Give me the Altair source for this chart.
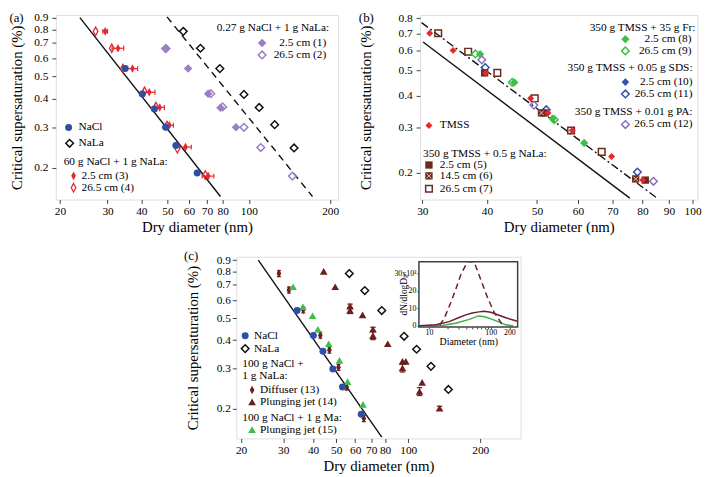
import altair as alt
import pandas as pd

FONT = "Liberation Serif, Times New Roman, DejaVu Serif, serif"
LEGSIZE = 11.5
TICKSIZE = 11.5
FRAME = "#404040"
BLUE = "#2E4FA3"
PURPLE = "#9B7EC4"
RED = "#E8262D"
BROWN = "#6B2A1A"
GREEN = "#3FBE4A"
SDSBLUE = "#3452AC"
PAPURPLE = "#8E6EC2"
MAROON = "#6C1F1C"
INMAROON = "#6E1E2C"
INGREEN = "#3DAF48"

# ---------------- panel (a) ----------------
a_x_ticks = [20, 30, 40, 50, 60, 70, 80, 100, 200]
a_y_ticks = [0.2, 0.3, 0.4, 0.5, 0.6, 0.7, 0.8, 0.9]
a_nacl_d = [34.9, 40.3, 44.7, 49.2, 53.7, 64.4]
a_nacl_s = [0.540, 0.419, 0.360, 0.300, 0.250, 0.190]
a_nala_d = [57.2, 66.2, 78.1, 95.9, 109.2, 124.6, 147.0]
a_nala_s = [0.784, 0.662, 0.540, 0.417, 0.366, 0.308, 0.244]
a_p1_d = [49.6, 59.6, 70.7, 78.5, 89.6]
a_p1_s = [0.660, 0.540, 0.420, 0.365, 0.300]
a_p2_d = [49.2, 72.3, 80.0, 95.9, 110.7, 144.9]
a_p2_s = [0.660, 0.420, 0.368, 0.300, 0.245, 0.184]
a_r3_d = [29.4, 32.8, 37.1, 42.8, 46.8, 50.8, 58.3, 70.7]
a_r3_s = [0.784, 0.662, 0.540, 0.426, 0.366, 0.306, 0.246, 0.184]
a_r3_err = [0.02, 0.05, 0.045, 0.05, 0.04, 0.035, 0.05, 0.05]
a_r4_d = [27.1, 31.1, 34.2, 41.1, 45.3, 49.8, 54.4, 69.0]
a_r4_s = [0.784, 0.662, 0.540, 0.430, 0.369, 0.305, 0.242, 0.186]
a_solid_d = [23.7, 78.5]
a_solid_s = [0.90, 0.150]
a_dash_d = [49.8, 172.0]
a_dash_s = [0.906, 0.150]
a_leg = ["0.27 g NaCl + 1 g NaLa:", "2.5 cm (1)", "26.5 cm (2)", "NaCl", "NaLa",
         "60 g NaCl + 1 g NaLa:", "2.5 cm (3)", "26.5 cm (4)"]

# ---------------- panel (b) ----------------
b_x_ticks = [30, 40, 50, 60, 70, 80, 90, 100]
b_y_ticks = [0.2, 0.3, 0.4, 0.5, 0.6, 0.7, 0.8]
b_tmss_d = [31.0, 34.4, 39.8, 48.6, 52.5, 58.5, 69.7, 80.1]
b_tmss_s = [0.700, 0.600, 0.490, 0.390, 0.342, 0.292, 0.231, 0.187]
b_s5_d = [39.6, 51.8, 81.0]
b_s5_s = [0.490, 0.342, 0.187]
b_s6_d = [51.0, 77.6]
b_s6_s = [0.342, 0.189]
b_s7_d = [32.2, 36.8, 41.9, 49.5, 58.2, 66.7]
b_s7_s = [0.700, 0.593, 0.490, 0.390, 0.292, 0.241]
b_g8_d = [38.8, 45.2, 53.6, 61.7]
b_g8_s = [0.580, 0.450, 0.325, 0.261]
b_g9_d = [38.0, 44.8, 54.0]
b_g9_s = [0.581, 0.450, 0.322]
b_b10_d = [39.6]
b_b10_s = [0.492]
b_b11_d = [39.7, 52.1, 78.2]
b_b11_s = [0.514, 0.352, 0.201]
b_p12_d = [39.1, 49.3, 84.0]
b_p12_s = [0.551, 0.367, 0.185]
b_solid_d = [30.1, 75.6]
b_solid_s = [0.647, 0.159]
b_dash_d = [29.9, 85.4]
b_dash_s = [0.770, 0.159]
b_leg = ["350 g TMSS + 35 g Fr:", "2.5 cm (8)", "26.5 cm (9)", "350 g TMSS + 0.05 g SDS:",
         "2.5 cm (10)", "26.5 cm (11)", "350 g TMSS + 0.01 g PA:", "26.5 cm (12)", "TMSS",
         "350 g TMSS + 0.5 g NaLa:", "2.5 cm (5)", "14.5 cm (6)", "26.5 cm (7)"]

# ---------------- panel (c) ----------------
c_x_ticks = [20, 30, 40, 50, 60, 70, 80, 100, 200]
c_y_ticks = [0.2, 0.3, 0.4, 0.5, 0.6, 0.7, 0.8, 0.9]
c_nacl_d = [34.3, 40.1, 44.0, 48.4, 53.1, 63.6]
c_nacl_s = [0.540, 0.419, 0.358, 0.299, 0.249, 0.189]
c_nala_d = [56.7, 65.8, 77.5, 96.1, 108.4, 124.5, 147.2]
c_nala_s = [0.785, 0.661, 0.540, 0.416, 0.365, 0.307, 0.243]
c_d13_d = [28.8, 31.7, 36.4, 42.9, 46.8, 51.1, 55.3, 65.2]
c_d13_s = [0.785, 0.665, 0.544, 0.421, 0.362, 0.304, 0.249, 0.181]
c_d13_err = [0.03, 0.03, 0.03, 0.03, 0.03, 0.03, 0.03, 0.03]
c_t14_d = [44.3, 49.5, 57.1, 57.1, 64.4, 71.2, 71.2, 82.1, 94.6, 97.7, 94.6, 114.3, 111.5, 135.2]
c_t14_s = [0.803, 0.687, 0.565, 0.540, 0.517, 0.447, 0.419, 0.386, 0.323, 0.323, 0.302, 0.261, 0.238, 0.201]
c_t14_err = [0, 0, 0.02, 0.03, 0, 0.02, 0.04, 0, 0, 0, 0.04, 0, 0.04, 0.02]
c_t15_d = [33.0, 36.3, 39.8, 41.9, 46.5, 51.6, 55.8, 64.7]
c_t15_s = [0.687, 0.561, 0.512, 0.447, 0.386, 0.326, 0.263, 0.209]
c_solid_d = [23.6, 77.5]
c_solid_s = [0.90, 0.150]
c_leg = ["NaCl", "NaLa", "100 g NaCl +", "1 g NaLa:", "Diffuser (13)", "Plunging jet (14)",
         "100 g NaCl + 1 g Ma:", "Plunging jet (15)"]

# inset size distributions
in_x_ticks = [10, 20, 30, 40, 50, 60, 70, 80, 90, 100, 200]
in_y_ticks = [0, 10, 20, 30]
in_dash_d = [15.0, 17.7, 22.7, 27.2, 32.8, 42.1, 53.8, 69.0, 88.5, 113.0, 154.0, 170.0]
in_dash_n = [0.5, 4.3, 13.5, 20.9, 29.3, 36.7, 36.7, 26.5, 16.3, 7.9, 0.6, 0.0]
in_solid_d = [7.0, 12.9, 21.3, 30.8, 39.5, 50.0, 64.7, 78.0, 100.0, 136.0, 180.0, 253.0, 272.0]
in_solid_n = [0.1, 0.6, 2.4, 4.8, 6.3, 7.4, 8.0, 8.3, 7.8, 6.1, 4.5, 2.9, 2.6]
in_green_d = [10.0, 17.0, 27.0, 45.0, 63.0, 80.0, 106.0, 140.0, 174.0, 230.0]
in_green_n = [0.0, 0.3, 1.5, 3.7, 5.7, 5.2, 3.7, 2.0, 0.6, 0.0]

ONE = pd.DataFrame({"k": [0]})
THIN = "M0,-1L0.55,0L0,1L-0.55,0Z"
VBAR = "M0,-1L0,1"
HBAR = "M-1,0L1,0"
XMARK = "M-0.75,-0.75L0.75,0.75M0.75,-0.75L-0.75,0.75"


def xaxis(vals):
    return alt.Axis(values=vals, format="~g", title="Dry diameter (nm)", domain=False, grid=False,
                    tickSize=4, tickColor=FRAME, tickWidth=1, labelFont=FONT, labelFontSize=TICKSIZE,
                    labelColor="black", labelPadding=2, labelFlush=False, labelOverlap=False,
                    titleFont=FONT, titleFontSize=15, titleFontWeight="normal", titleColor="black",
                    titlePadding=3)


def yaxis(vals, lp, ext, tp):
    return alt.Axis(values=vals, format="~g", title="Critical supersaturation (%)", domain=False,
                    grid=False, tickSize=4, tickColor=FRAME, tickWidth=1, labelFont=FONT,
                    labelFontSize=TICKSIZE, labelColor="black", labelPadding=lp, labelFlush=False,
                    labelOverlap=False, titleFont=FONT, titleFontSize=15, titleFontWeight="normal",
                    titleColor="black", titlePadding=tp, minExtent=ext, maxExtent=ext)


class Panel:
    def __init__(self, xdom, ydom, xticks, yticks, lp, ext, tp):
        self.xs = alt.Scale(type="log", domain=xdom, nice=False)
        self.ys = alt.Scale(type="log", domain=ydom, nice=False)
        self.xa = xaxis(xticks)
        self.ya = yaxis(yticks, lp, ext, tp)
        self.layers = []

    def ex(self, f):
        return alt.X(f, type="quantitative", scale=self.xs, axis=self.xa)

    def ey(self, f):
        return alt.Y(f, type="quantitative", scale=self.ys, axis=self.ya)

    def line(self, d, s, dash=None):
        kw = dict(color="#111111", strokeWidth=1.4, clip=True)
        if dash:
            kw["strokeDash"] = dash
        df = pd.DataFrame({"d": d, "s": s})
        self.layers.append(alt.Chart(df).mark_line(**kw).encode(x=self.ex("d"), y=self.ey("s")))

    def points(self, d, s, shape, size, color, filled=True, sw=1.5):
        df = pd.DataFrame({"d": d, "s": s})
        self.layers.append(alt.Chart(df).mark_point(shape=shape, size=size, filled=filled, color=color,
                                                     opacity=1, strokeWidth=sw)
                           .encode(x=self.ex("d"), y=self.ey("s")))

    def xerr(self, d, s, err, color, cap=25):
        rows = [(w, v * (1 - e), v * (1 + e)) for v, w, e in zip(d, s, err) if e > 0]
        df = pd.DataFrame(rows, columns=["s", "lo", "hi"])
        self.layers.append(alt.Chart(df).mark_rule(color=color, strokeWidth=1.2)
                           .encode(x=self.ex("lo"), x2="hi", y=self.ey("s")))
        for f in ("lo", "hi"):
            self.layers.append(alt.Chart(df).mark_point(shape=VBAR, size=cap, filled=False, color=color,
                                                         strokeWidth=1.2, opacity=1)
                               .encode(x=self.ex(f), y=self.ey("s")))

    def yerr(self, d, s, err, color, cap=25):
        rows = [(v, w * (1 - e), w * (1 + e)) for v, w, e in zip(d, s, err) if e > 0]
        df = pd.DataFrame(rows, columns=["d", "lo", "hi"])
        self.layers.append(alt.Chart(df).mark_rule(color=color, strokeWidth=1.2)
                           .encode(x=self.ex("d"), y=self.ey("lo"), y2="hi"))
        for f in ("lo", "hi"):
            self.layers.append(alt.Chart(df).mark_point(shape=HBAR, size=cap, filled=False, color=color,
                                                         strokeWidth=1.2, opacity=1)
                               .encode(x=self.ex("d"), y=self.ey(f)))

    def sym(self, x, y, shape, size, color, filled=True, sw=1.5):
        self.layers.append(alt.Chart(ONE).mark_point(shape=shape, size=size, filled=filled, color=color,
                                                      opacity=1, strokeWidth=sw)
                           .encode(x=alt.value(x), y=alt.value(y)))

    def text(self, x, y, t, align="left", size=LEGSIZE):
        self.layers.append(alt.Chart(ONE).mark_text(text=t, align=align, baseline="middle", font=FONT,
                                                     fontSize=size, color="black")
                           .encode(x=alt.value(x), y=alt.value(y)))


# ================= (a) =================
AW, AH = 286, 187
pa = Panel([19.3, 214], [0.1455, 0.924], a_x_ticks, a_y_ticks, lp=4, ext=23, tp=9)
pa.line(a_solid_d, a_solid_s)
pa.line(a_dash_d, a_dash_s, dash=[7, 5])
pa.points(a_nala_d, a_nala_s, "diamond", 60, "#111111", filled=False, sw=1.5)
pa.points(a_p2_d, a_p2_s, "diamond", 60, PURPLE, filled=False, sw=1.5)
pa.points(a_p1_d, a_p1_s, "diamond", 75, PURPLE)
pa.xerr(a_r3_d, a_r3_s, a_r3_err, RED)
pa.points(a_r4_d, a_r4_s, THIN, 75, RED, filled=False, sw=1.3)
pa.points(a_r3_d, a_r3_s, THIN, 75, RED)
pa.points(a_nacl_d, a_nacl_s, "circle", 50, BLUE)
# legends
pa.text(AW - 9, 13, a_leg[0], align="right")
pa.sym(AW - 77, 28.5, "diamond", 75, PURPLE)
pa.text(AW - 12, 28.5, a_leg[1], align="right")
pa.sym(AW - 77, 40.5, "diamond", 60, PURPLE, filled=False)
pa.text(AW - 12, 40.5, a_leg[2], align="right")
pa.sym(13, AH - 73, "circle", 50, BLUE)
pa.text(23, AH - 73, a_leg[3])
pa.sym(14, AH - 57, "diamond", 60, "#111111", filled=False)
pa.text(23, AH - 57, a_leg[4])
pa.text(8, AH - 38, a_leg[5])
pa.sym(18, AH - 24, THIN, 75, RED)
pa.text(26, AH - 24, a_leg[6])
pa.sym(18, AH - 12, THIN, 75, RED, filled=False, sw=1.3)
pa.text(26, AH - 12, a_leg[7])
pa.text(-47, 3, "(a)", size=13)
chart_a = alt.layer(*pa.layers).properties(width=AW, height=AH)

# ================= (b) =================
BW, BH = 281, 187
pb = Panel([29.7, 102.2], [0.157, 0.825], b_x_ticks, b_y_ticks, lp=4, ext=23, tp=24)
pb.line(b_solid_d, b_solid_s)
pb.line(b_dash_d, b_dash_s, dash=[8, 3, 2, 3])
pb.points(b_b10_d, b_b10_s, "diamond", 60, SDSBLUE)
pb.points(b_s7_d, b_s7_s, "square", 45, BROWN, filled=False, sw=1.5)
pb.points(b_g9_d, b_g9_s, "diamond", 60, GREEN, filled=False, sw=1.5)
pb.points(b_g8_d, b_g8_s, "diamond", 70, GREEN)
pb.points(b_b11_d, b_b11_s, "diamond", 60, SDSBLUE, filled=False, sw=1.5)
pb.points(b_p12_d, b_p12_s, "diamond", 60, PAPURPLE, filled=False, sw=1.5)
pb.points(b_s5_d, b_s5_s, "square", 55, BROWN)
pb.points(b_s6_d, b_s6_s, "square", 55, BROWN)
pb.points(b_s6_d, b_s6_s, XMARK, 40, "#D8C8C0", filled=False, sw=1)
pb.points(b_tmss_d, b_tmss_s, "diamond", 50, RED)
# legends
pb.text(BW - 2, 13, b_leg[0], align="right")
pb.sym(BW - 73, 24.6, "diamond", 70, GREEN)
pb.text(BW - 6, 24.6, b_leg[1], align="right")
pb.sym(BW - 73, 36.4, "diamond", 60, GREEN, filled=False)
pb.text(BW - 6, 36.4, b_leg[2], align="right")
pb.text(BW - 5, 54, b_leg[3], align="right")
pb.sym(BW - 73, 68, "diamond", 60, SDSBLUE)
pb.text(BW - 5, 68, b_leg[4], align="right")
pb.sym(BW - 73, 80, "diamond", 60, SDSBLUE, filled=False)
pb.text(BW - 5, 80, b_leg[5], align="right")
pb.text(BW - 5, 98.5, b_leg[6], align="right")
pb.sym(BW - 73, 111, "diamond", 60, PAPURPLE, filled=False)
pb.text(BW - 5, 111, b_leg[7], align="right")
pb.sym(9, BH - 75, "diamond", 50, RED)
pb.text(20, BH - 75, b_leg[8])
pb.text(3, BH - 46, b_leg[9])
pb.sym(9, BH - 35, "square", 55, BROWN)
pb.text(20, BH - 35, b_leg[10])
pb.sym(9, BH - 24, "square", 55, BROWN)
pb.sym(9, BH - 24, XMARK, 40, "#D8C8C0", filled=False, sw=1)
pb.text(20, BH - 24, b_leg[11])
pb.sym(9, BH - 11, "square", 45, BROWN, filled=False)
pb.text(20, BH - 11, b_leg[12])
pb.text(-62, 3, "(b)", size=13)
chart_b = alt.layer(*pb.layers).properties(width=BW, height=BH)

# ================= (c) =================
CW, CH = 288, 184
pc = Panel([19.1, 295], [0.148, 0.93], c_x_ticks, c_y_ticks, lp=2, ext=21, tp=15)
pc.line(c_solid_d, c_solid_s)
pc.points(c_nala_d, c_nala_s, "diamond", 60, "#111111", filled=False, sw=1.5)
pc.yerr(c_d13_d, c_d13_s, c_d13_err, MAROON, cap=16)
pc.points(c_d13_d, c_d13_s, THIN, 75, MAROON)
pc.yerr(c_t14_d, c_t14_s, c_t14_err, MAROON, cap=30)
pc.points(c_t14_d, c_t14_s, "triangle-up", 60, MAROON)
pc.points(c_t15_d, c_t15_s, "triangle-up", 60, GREEN)
pc.points(c_nacl_d, c_nacl_s, "circle", 50, BLUE)
pc.sym(9, CH - 104, "circle", 50, BLUE)
pc.text(18, CH - 104, c_leg[0])
pc.sym(9, CH - 91, "diamond", 60, "#111111", filled=False)
pc.text(18, CH - 91, c_leg[1])
pc.text(6, CH - 75, c_leg[2])
pc.text(6, CH - 63, c_leg[3])
pc.sym(16, CH - 49, THIN, 75, MAROON)
pc.text(24, CH - 49, c_leg[4])
pc.sym(16, CH - 37, "triangle-up", 60, MAROON)
pc.text(24, CH - 37, c_leg[5])
pc.text(6, CH - 21, c_leg[6])
pc.sym(16, CH - 9, "triangle-up", 60, GREEN)
pc.text(24, CH - 9, c_leg[7])
pc.text(-53, -1, "(c)", size=13)
c_main = alt.layer(*pc.layers)

# inset
IX0, IX1, IY0, IY1 = 185, 285, 5, 71
in_xs = alt.Scale(type="log", domain=[6.9, 272], range=[IX0, IX1], nice=False)
in_ys = alt.Scale(domain=[-0.6, 36.7], range=[IY1, IY0], nice=False, zero=False)
in_xa = alt.Axis(orient="bottom", offset=-(CH - IY1), values=in_x_ticks,
                 labelExpr="datum.value == 10 || datum.value == 100 || datum.value == 200 ? datum.label : ''",
                 domain=False, grid=False, tickSize=2, tickColor=FRAME, labelFont=FONT, labelFontSize=8,
                 labelPadding=0, labelFlush=False, labelOverlap=False, labelColor="black",
                 title="Diameter (nm)", titleFont=FONT, titleFontSize=10, titleFontWeight="normal",
                 titleColor="black", titlePadding=0)
in_ya = alt.Axis(orient="left", offset=-IX0, values=in_y_ticks,
                 labelExpr="datum.value == 30 ? '30x10³' : datum.label",
                 domain=False, grid=False, tickSize=2, tickColor=FRAME, labelFont=FONT, labelFontSize=8,
                 labelPadding=1, labelFlush=False, labelOverlap=False, labelColor="black",
                 title="dN/dlogDₚ", titleFont=FONT, titleFontSize=9.5, titleFontWeight="normal",
                 titleColor="black", titlePadding=1, minExtent=10, maxExtent=10)


def inset_line(d, n, color, dash=None):
    kw = dict(color=color, strokeWidth=1.5)
    if dash:
        kw["strokeDash"] = dash
    df = pd.DataFrame({"d": d, "n": n})
    return alt.Chart(df).mark_line(**kw).encode(
        x=alt.X("d", type="quantitative", scale=in_xs, axis=in_xa),
        y=alt.Y("n", type="quantitative", scale=in_ys, axis=in_ya))


in_fill = alt.Chart(ONE).mark_rect(fill="white", strokeWidth=0).encode(
    x=alt.value(IX0), x2=alt.value(IX1), y=alt.value(IY0), y2=alt.value(IY1))
in_frame = alt.Chart(ONE).mark_rect(fillOpacity=0, stroke=FRAME, strokeWidth=1.5).encode(
    x=alt.value(IX0), x2=alt.value(IX1), y=alt.value(IY0), y2=alt.value(IY1))
inset = alt.layer(in_fill,
                  inset_line(in_green_d, in_green_n, INGREEN),
                  inset_line(in_solid_d, in_solid_n, INMAROON),
                  inset_line(in_dash_d, in_dash_n, INMAROON, dash=[6, 4]),
                  in_frame)

chart_c = alt.layer(c_main, inset).resolve_scale(x="independent", y="independent").properties(
    width=CW, height=CH)

row1 = alt.hconcat(chart_a, chart_b, spacing=18)
chart = alt.vconcat(row1, chart_c, spacing=14, center=True, padding=0, background="white")
chart = (chart.configure_view(stroke=FRAME, strokeWidth=1.5)
         .configure_axis(labelFont=FONT, titleFont=FONT, titleFontWeight="normal", labelColor="black",
                         titleColor="black")
         .configure_text(font=FONT)
         .configure(font=FONT))

chart.save("out.html", embed_options={"renderer": "svg", "actions": False})
